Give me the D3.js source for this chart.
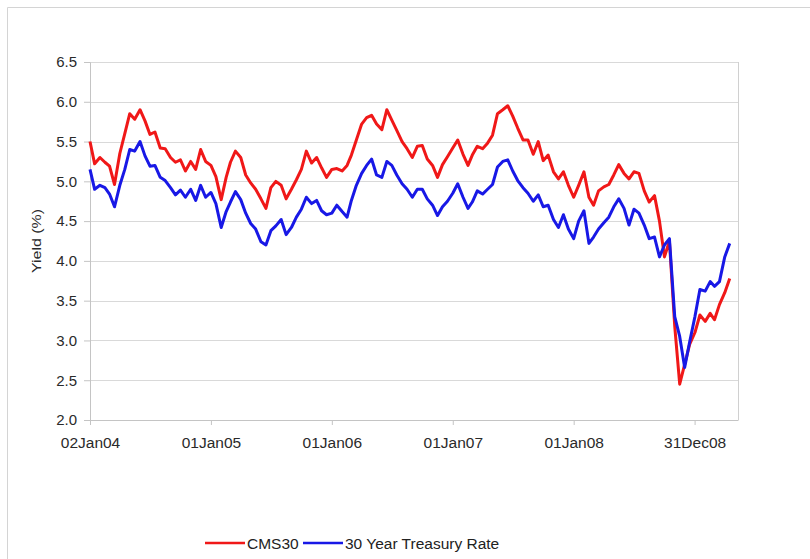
<!DOCTYPE html>
<html lang="en">
<head>
    <meta charset="utf-8">
    <title>CMS30 vs 30 Year Treasury</title>
    <script src="https://d3js.org/d3.v7.min.js"></script>
    <style>
        body { margin: 0; background: #fff; }
        text { font-family: "Liberation Sans", Arial, sans-serif; }
    </style>
</head>
<body>
    <svg width="810" height="559" id="mainsvg"></svg>

    <script>
        // semi-monthly observation dates
        const dates = [
            "2004-01-02","2004-01-16","2004-02-01","2004-02-16","2004-03-01","2004-03-16","2004-04-01","2004-04-16","2004-05-01","2004-05-16","2004-06-01","2004-06-16",
            "2004-07-01","2004-07-16","2004-08-01","2004-08-16","2004-09-01","2004-09-16","2004-10-01","2004-10-16","2004-11-01","2004-11-16","2004-12-01","2004-12-16",
            "2005-01-01","2005-01-16","2005-02-01","2005-02-16","2005-03-01","2005-03-16","2005-04-01","2005-04-16","2005-05-01","2005-05-16","2005-06-01","2005-06-16",
            "2005-07-01","2005-07-16","2005-08-01","2005-08-16","2005-09-01","2005-09-16","2005-10-01","2005-10-16","2005-11-01","2005-11-16","2005-12-01","2005-12-16",
            "2006-01-01","2006-01-16","2006-02-01","2006-02-16","2006-03-01","2006-03-16","2006-04-01","2006-04-16","2006-05-01","2006-05-16","2006-06-01","2006-06-16",
            "2006-07-01","2006-07-16","2006-08-01","2006-08-16","2006-09-01","2006-09-16","2006-10-01","2006-10-16","2006-11-01","2006-11-16","2006-12-01","2006-12-16",
            "2007-01-01","2007-01-16","2007-02-01","2007-02-16","2007-03-01","2007-03-16","2007-04-01","2007-04-16","2007-05-01","2007-05-16","2007-06-01","2007-06-16",
            "2007-07-01","2007-07-16","2007-08-01","2007-08-16","2007-09-01","2007-09-16","2007-10-01","2007-10-16","2007-11-01","2007-11-16","2007-12-01","2007-12-16",
            "2008-01-01","2008-01-16","2008-02-01","2008-02-16","2008-03-01","2008-03-16","2008-04-01","2008-04-16","2008-05-01","2008-05-16","2008-06-01","2008-06-16",
            "2008-07-01","2008-07-16","2008-08-01","2008-08-16","2008-09-01","2008-09-16","2008-10-01","2008-10-16","2008-11-01","2008-11-16","2008-12-01","2008-12-16",
            "2009-01-01","2009-01-16","2009-02-01","2009-02-16","2009-03-01","2009-03-16","2009-04-01","2009-04-16"
        ]

        // CMS30 yield (%)
        const cms30 = [
            5.50,5.22,5.30,5.24,5.19,4.96,5.35,5.60,5.85,5.78,5.90,5.76,
            5.59,5.62,5.42,5.41,5.30,5.24,5.27,5.13,5.25,5.15,5.40,5.25,
            5.20,5.06,4.77,5.05,5.24,5.38,5.30,5.08,4.98,4.90,4.78,4.66,
            4.92,5.00,4.95,4.78,4.90,5.02,5.15,5.38,5.23,5.30,5.17,5.05,
            5.15,5.16,5.13,5.20,5.33,5.52,5.72,5.80,5.83,5.72,5.65,5.90,
            5.77,5.64,5.50,5.41,5.30,5.44,5.45,5.28,5.20,5.05,5.21,5.31,
            5.42,5.52,5.34,5.20,5.33,5.44,5.41,5.48,5.58,5.85,5.90,5.95,
            5.82,5.67,5.52,5.52,5.34,5.50,5.26,5.33,5.12,5.03,5.12,4.95,
            4.80,4.95,5.12,4.80,4.70,4.88,4.93,4.96,5.08,5.21,5.10,5.03,
            5.12,5.10,4.88,4.74,4.82,4.50,4.05,4.25,3.18,2.45,2.70,2.95,
            3.10,3.32,3.24,3.34,3.26,3.45,3.60,3.78
        ]

        // 30 year treasury yield (%)
        const treasury30 = [
            5.15,4.90,4.95,4.92,4.84,4.68,4.95,5.15,5.40,5.38,5.50,5.32,
            5.19,5.20,5.05,5.01,4.92,4.83,4.89,4.80,4.90,4.76,4.95,4.80,
            4.86,4.72,4.42,4.62,4.74,4.87,4.77,4.60,4.47,4.40,4.24,4.20,
            4.38,4.44,4.52,4.33,4.42,4.55,4.65,4.80,4.72,4.76,4.63,4.58,
            4.60,4.70,4.62,4.55,4.76,4.95,5.10,5.20,5.28,5.08,5.05,5.25,
            5.20,5.08,4.97,4.90,4.80,4.90,4.90,4.78,4.70,4.57,4.68,4.75,
            4.85,4.97,4.80,4.66,4.74,4.88,4.84,4.90,4.96,5.18,5.25,5.27,
            5.13,5.01,4.92,4.85,4.75,4.83,4.68,4.70,4.52,4.42,4.58,4.40,
            4.28,4.50,4.63,4.22,4.30,4.40,4.48,4.55,4.68,4.78,4.66,4.45,
            4.65,4.60,4.45,4.28,4.30,4.05,4.20,4.28,3.30,3.05,2.66,2.98,
            3.30,3.64,3.62,3.74,3.68,3.74,4.05,4.22
        ]

        const tickDates = ["2004-01-02","2005-01-01","2006-01-01","2007-01-01","2008-01-01","2008-12-31"]
        const tickLabels = ["02Jan04","01Jan05","01Jan06","01Jan07","01Jan08","31Dec08"]
        const yTicks = [2.0, 2.5, 3.0, 3.5, 4.0, 4.5, 5.0, 5.5, 6.0, 6.5]
        const seriesNames = ["CMS30", "30 Year Treasury Rate"]
        const seriesColors = ["#f01818", "#1818e6"]

        const parse = d3.utcParse('%Y-%m-%d')
        const svg = d3.select('#mainsvg')

        // outer frame (only its top and left edges fall inside the picture)
        svg.append('path')
            .attr('d', 'M7.5,559V7.5H810')
            .attr('fill', 'none').attr('stroke', '#d4d4d4')

        const margin = {top: 62, right: 72, bottom: 139, left: 90}
        const innerWidth = 810 - margin.left - margin.right
        const innerHeight = 559 - margin.top - margin.bottom

        const xScale = d3.scaleUtc()
            .domain([parse('2004-01-02'), parse('2009-05-11')])
            .range([0, innerWidth])
        const yScale = d3.scaleLinear()
            .domain([2.0, 6.5])
            .range([innerHeight, 0])

        const g = svg.append('g').attr('transform', `translate(${margin.left}, ${margin.top})`)

        // gridlines
        g.append('g').selectAll('line').data(yTicks.slice(1)).join('line')
            .attr('x1', 0).attr('x2', innerWidth)
            .attr('y1', d => Math.round(yScale(d)) + 0.5).attr('y2', d => Math.round(yScale(d)) + 0.5)
            .attr('stroke', '#d9d9d9')
        g.append('line')
            .attr('x1', innerWidth + 0.5).attr('x2', innerWidth + 0.5)
            .attr('y1', 0).attr('y2', innerHeight)
            .attr('stroke', '#d0d0d0')

        // y axis
        const yAxis = d3.axisLeft(yScale).tickValues(yTicks).tickFormat(d3.format('.1f')).tickSize(6).tickPadding(7)
        const yAxisGroup = g.append('g').call(yAxis)
        yAxisGroup.selectAll('.domain, .tick line').attr('stroke', '#c4c4c4')
        yAxisGroup.selectAll('.tick text').attr('font-size', 15).attr('fill', '#2a2a2a')

        // x axis
        const xAxis = d3.axisBottom(xScale)
            .tickValues(tickDates.map(parse))
            .tickFormat((d, i) => tickLabels[i])
            .tickSize(5).tickSizeOuter(0).tickPadding(12)
        const xAxisGroup = g.append('g').call(xAxis).attr('transform', `translate(0, ${innerHeight})`)
        xAxisGroup.selectAll('.domain, .tick line').attr('stroke', '#c4c4c4')
        xAxisGroup.selectAll('.tick text').attr('font-size', 15.5).attr('fill', '#2a2a2a')

        svg.append('text')
            .text('Yield (%)')
            .attr('font-size', 13.5)
            .attr('fill', '#2a2a2a')
            .attr('text-anchor', 'middle')
            .attr('textLength', 64)
            .attr('lengthAdjust', 'spacingAndGlyphs')
            .attr('transform', 'translate(41, 241) rotate(-90)')

        // series
        const allSeries = [cms30, treasury30]
        const line = d3.line()
            .x((d, i) => xScale(parse(dates[i])))
            .y(d => yScale(d))

        allSeries.forEach((s, k) => {
            g.append('path')
                .datum(s)
                .attr('d', line)
                .attr('fill', 'none')
                .attr('stroke', seriesColors[k])
                .attr('stroke-width', 3)
                .attr('stroke-linejoin', 'round')
        })

        // legend
        const legend = svg.append('g').attr('transform', 'translate(205, 543)')
        const legendX = [0, 98]
        const legendLen = [40, 40]
        seriesNames.forEach((name, k) => {
            legend.append('line')
                .attr('x1', legendX[k]).attr('x2', legendX[k] + legendLen[k])
                .attr('y1', 0).attr('y2', 0)
                .attr('stroke', seriesColors[k]).attr('stroke-width', 2.5)
            legend.append('text')
                .text(name)
                .attr('x', legendX[k] + legendLen[k] + 2)
                .attr('y', 5.5)
                .attr('font-size', 15.5)
                .attr('fill', '#222')
        })
    </script>
</body>
</html>
